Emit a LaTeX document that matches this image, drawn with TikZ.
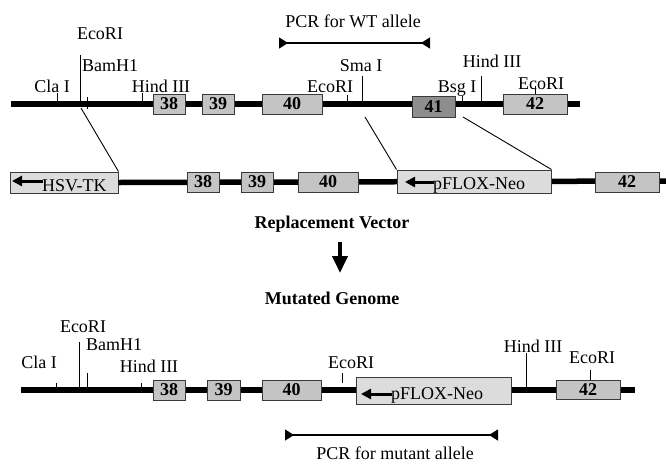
\documentclass[tikz,border=0pt]{standalone}
\usepackage{fontspec}
\setmainfont{Liberation Serif}
\usetikzlibrary{arrows.meta}
\definecolor{GExon}{HTML}{C4C4C4}
\definecolor{GExonDark}{HTML}{8E8E8E}
\definecolor{GCassette}{HTML}{DCDCDC}
\definecolor{GEdge}{HTML}{3A3A3A}

\begin{document}
\begin{tikzpicture}[x=1pt,y=-1pt,
  font=\fontsize{18}{21}\selectfont,
  dna/.style={line width=5.5pt},
  site/.style={line width=0.9pt},
  exon/.style={draw=GEdge,fill=GExon,line width=1pt,inner sep=0pt,minimum height=20pt,font=\fontsize{18}{21}\selectfont\bfseries},
  cassette/.style={draw=GEdge,fill=GCassette,line width=1pt,inner sep=0pt},
  enz/.style={anchor=base,inner sep=0pt},
  title/.style={anchor=base,inner sep=0pt,font=\fontsize{18}{21}\selectfont\bfseries},
  primer/.style={line width=1.2pt,{Triangle[reversed,length=9pt,width=11pt]}-{Triangle[reversed,length=9pt,width=11pt]}},
  cassarrow/.style={line width=3pt,-{Triangle[length=10pt,width=10pt]}}]
\path[use as bounding box] (0,0) rectangle (666,464);

% PCR primers, wild type
\coordinate (wtF) at (279,43);
\coordinate (wtB) at (430,43);
\draw[primer] (wtF) -- (wtB);
\node[enz] (pcrwt) at (353,27) {PCR for WT allele};

% wild-type genome
\draw[site] (57,93) -- (57,104);
\draw[site] (80,55) -- (80,104);
\draw[site] (87,97) -- (87,109);
\draw[site] (142,93) -- (142,104);
\draw[site] (347,95) -- (347,104);
\draw[site] (362,76) -- (362,104);
\draw[site] (462,96) -- (462,104);
\draw[site] (481,76) -- (481,104);
\draw[site] (535,86) -- (535,94);
\coordinate (wtL) at (11,104);
\coordinate (wtR) at (580,104);
\draw[dna] (wtL) -- (wtR);
\node[exon,minimum width=32pt] (wt38) at (169,104) {38};
\node[exon,minimum width=32pt] (wt39) at (218,104) {39};
\node[exon,minimum width=60pt] (wt40) at (292,104) {40};
\node[exon,minimum width=43pt,minimum height=21pt,fill=GExonDark] (wt41) at (433.5,107) {41};
\node[exon,minimum width=64pt] (wt42) at (535,104) {42};
\node[enz] (claA) at (52,92) {Cla I};
\node[enz] (ecoA) at (100,39) {EcoRI};
\node[enz] (bamA) at (110,71) {BamH1};
\node[enz] (hindA) at (161,92) {Hind III};
\node[enz] (ecoB) at (330,92) {EcoRI};
\node[enz] (smaA) at (361,71) {Sma I};
\node[enz] (bsgA) at (457,92) {Bsg I};
\node[enz] (hindB) at (492,67) {Hind III};
\node[enz] (ecoC) at (541,89) {EcoRI};

% replacement vector
\coordinate (vecR) at (666,181);
\node[cassette,minimum width=108pt,minimum height=21pt] (hsv) at (64,182.5) {};
\draw[dna] (hsv.east) -- (vecR);
\node[exon,minimum width=32pt] (v38) at (203,182) {38};
\node[exon,minimum width=32pt] (v39) at (257,182) {39};
\node[exon,minimum width=60pt] (v40) at (328,182) {40};
\node[cassette,minimum width=154pt,minimum height=23pt] (neoV) at (474,181.5) {};
\node[exon,minimum width=64pt] (v42) at (627,182) {42};
\node[anchor=base west,inner sep=0pt] (hsvtxt) at (42,191) {HSV-TK};
\coordinate (hsvA) at (43,181);
\coordinate (hsvB) at (12,181);
\draw[cassarrow] (hsvA) -- (hsvB);
\node[anchor=base west,inner sep=0pt] (neoVtxt) at (433,189) {pFLOX-Neo};
\coordinate (neoVA) at (434,182);
\coordinate (neoVB) at (405,182);
\draw[cassarrow] (neoVA) -- (neoVB);

% recombination arms
\coordinate (xA) at (81,108);
\coordinate (xB) at (365,117);
\coordinate (xC) at (463,117);
\draw[site] (xA) -- (hsv.north east);
\draw[site] (xB) -- (neoV.north west);
\draw[site] (xC) -- (neoV.north east);

\node[title] (repl) at (332,228) {Replacement Vector};
\coordinate (arrT) at (340,242);
\coordinate (arrB) at (340,273);
\draw[line width=4pt,-{Triangle[length=17pt,width=15pt]}] (arrT) -- (arrB);
\node[title] (mut) at (332,304) {Mutated Genome};

% mutated genome
\draw[site] (56,383) -- (56,390);
\draw[site] (79,342) -- (79,390);
\draw[site] (87,373) -- (87,390);
\draw[site] (141,383) -- (141,390);
\draw[site] (342,373) -- (342,383);
\draw[site] (526,353) -- (526,390);
\draw[site] (590,370) -- (590,380);
\coordinate (mL) at (21,390);
\coordinate (mR) at (635,390);
\draw[dna] (mL) -- (mR);
\node[exon,minimum width=32pt] (m38) at (169,390) {38};
\node[exon,minimum width=33pt] (m39) at (223.5,390) {39};
\node[exon,minimum width=59pt] (m40) at (291.5,390) {40};
\node[cassette,minimum width=155pt,minimum height=27pt] (neoM) at (433.5,390.5) {};
\node[exon,minimum width=64pt,minimum height=19pt] (m42) at (588,389.5) {42};
\node[anchor=base west,inner sep=0pt] (neoMtxt) at (391,399) {pFLOX-Neo};
\coordinate (neoMA) at (392,394);
\coordinate (neoMB) at (361,394);
\draw[cassarrow] (neoMA) -- (neoMB);
\node[enz] (claM) at (39,368) {Cla I};
\node[enz] (ecoM) at (83,332) {EcoRI};
\node[enz] (bamM) at (114,350) {BamH1};
\node[enz] (hindM) at (149,372) {Hind III};
\node[enz] (ecoMb) at (351,368) {EcoRI};
\node[enz] (hindMb) at (533,352) {Hind III};
\node[enz] (ecoMc) at (592,363) {EcoRI};

% PCR primers, mutant
\coordinate (mtF) at (285,435);
\coordinate (mtB) at (498,435);
\draw[primer] (mtF) -- (mtB);
\node[enz] (pcrmt) at (395,459) {PCR for mutant allele};
\end{tikzpicture}
\end{document}
